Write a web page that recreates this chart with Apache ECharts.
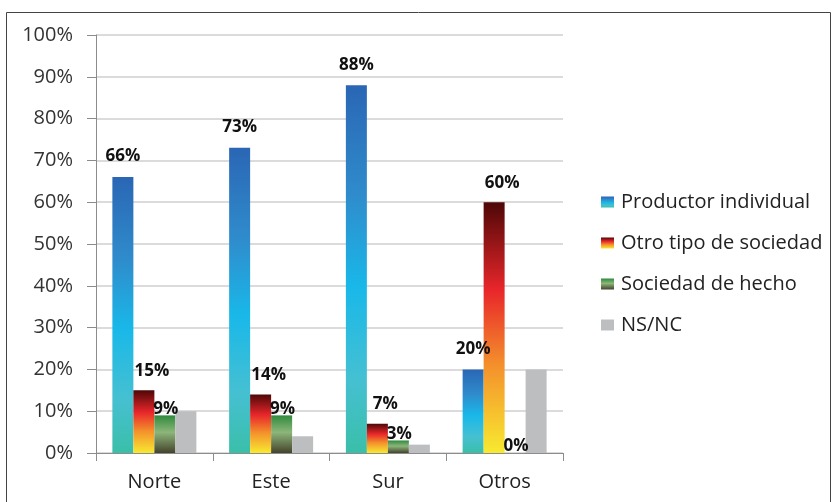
<!DOCTYPE html>
<html>
<head>
<meta charset="utf-8">
<script src="https://cdn.jsdelivr.net/npm/echarts@6/dist/echarts.min.js"></script>
<style>
  html, body { margin: 0; padding: 0; background: #fff; }
  #chart { width: 833px; height: 502px; }
</style>
</head>
<body>
<div id="chart"></div>
<script>
// data
const categories = ["Norte", "Este", "Sur", "Otros"];
const seriesNames = ["Productor individual", "Otro tipo de sociedad", "Sociedad de hecho", "NS/NC"];
const productor = [66, 73, 88, 20];
const otroTipo = [15, 14, 7, 60];
const sociedadHecho = [9, 9, 3, 0];
const nsnc = [10, 4, 2, 20];

const FONT = "Open Sans";

const grad = (stops) => new echarts.graphic.LinearGradient(0, 0, 0, 1,
  stops.map(([offset, color]) => ({ offset, color })));

const blueFill = grad([[0, "#2a66b4"], [0.3, "#2f8ccc"], [0.55, "#19b8e9"], [0.8, "#45c0d2"], [1, "#3abfa9"]]);
const redFill = grad([[0, "#4e0707"], [0.35, "#e8262a"], [0.65, "#f4902c"], [1, "#f8ea30"]]);
const greenFill = grad([[0, "#2f8a3e"], [0.45, "#8cb67a"], [1, "#45432c"]]);

const labelStyle = {
  show: true,
  position: "top",
  formatter: "{c}%",
  fontFamily: FONT,
  fontWeight: "bold",
  fontSize: 17,
  color: "#111"
};

const chart = echarts.init(document.getElementById("chart"), null, { renderer: "canvas" });

chart.setOption({
  backgroundColor: "#fff",
  animation: false,
  graphic: [{
    type: "rect",
    shape: { x: 6.5, y: 12.5, width: 824, height: 495 },
    style: { fill: "none", stroke: "#444", lineWidth: 1 }
  }],
  grid: { left: 96, right: 270, top: 35, bottom: 49 },
  legend: {
    orient: "vertical",
    left: 596,
    top: 187,
    itemWidth: 13,
    itemHeight: 11,
    itemGap: 21,
    icon: "rect",
    data: seriesNames,
    textStyle: { fontFamily: FONT, fontSize: 20, color: "#222", padding: [0, 0, 0, 2] }
  },
  xAxis: {
    type: "category",
    data: categories,
    axisLine: { lineStyle: { color: "#8c8c8c" } },
    axisTick: { show: true, length: 8, lineStyle: { color: "#8c8c8c" } },
    axisLabel: { fontFamily: FONT, fontSize: 20, color: "#222", margin: 19 }
  },
  yAxis: {
    type: "value",
    min: 0,
    max: 100,
    interval: 10,
    axisLine: { show: true, lineStyle: { color: "#8c8c8c" } },
    axisTick: { show: true, length: 9, lineStyle: { color: "#8c8c8c" } },
    splitLine: { lineStyle: { color: "#cfcfcf", width: 1.5 } },
    axisLabel: { formatter: "{value}%", fontFamily: FONT, fontSize: 20, color: "#333", margin: 23 }
  },
  series: [
    {
      name: seriesNames[0], type: "bar", data: productor,
      barWidth: 21, barGap: "0%",
      itemStyle: { color: blueFill },
      label: { ...labelStyle, distance: 12 }
    },
    {
      name: seriesNames[1], type: "bar", data: otroTipo,
      barWidth: 21, barGap: "0%",
      itemStyle: { color: redFill },
      label: { ...labelStyle, distance: 11, offset: [8, 0] }
    },
    {
      name: seriesNames[2], type: "bar", data: sociedadHecho,
      barWidth: 21, barGap: "0%",
      itemStyle: { color: greenFill },
      label: { ...labelStyle, distance: 0, offset: [1, 2] }
    },
    {
      name: seriesNames[3], type: "bar", data: nsnc,
      barWidth: 21, barGap: "0%",
      itemStyle: { color: "#bcbec0" }
    }
  ]
});
</script>
</body>
</html>
